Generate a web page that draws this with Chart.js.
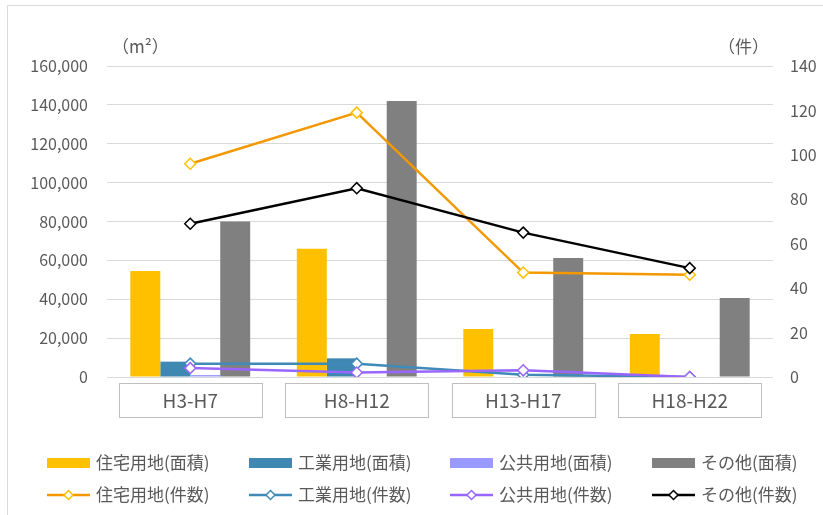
<!DOCTYPE html>
<html>
<head>
<meta charset="utf-8">
<script src="https://cdn.jsdelivr.net/npm/chart.js@4"></script>
<style>
  html, body { margin: 0; padding: 0; background: #fff; }
  #wrap { width: 823px; height: 515px; }
</style>
</head>
<body>
<div id="wrap"><canvas id="landChart" width="823" height="515"></canvas></div>
<script>
const periods = ['H3-H7', 'H8-H12', 'H13-H17', 'H18-H22'];

// 面積 (m2)
const residentialArea = [54500, 66000, 24700, 22100];
const industrialArea = [7900, 9600, 0, 0];
const publicArea = [1000, 0, 0, 0];
const otherArea = [80000, 142000, 61200, 40600];

// 件数
const residentialCount = [96, 119, 47, 46];
const industrialCount = [6, 6, 1, 0];
const publicCount = [4, 2, 3, 0];
const otherCount = [69, 85, 65, 49];

const areaTicks = [0, 20000, 40000, 60000, 80000, 100000, 120000, 140000, 160000];
const countTicks = [0, 20, 40, 60, 80, 100, 120, 140];

const FONT = '"Noto Sans CJK JP", "Noto Sans", sans-serif';
const TXT = '#595959';

function bar(label, data, color) {
    return { type: 'bar', label: label, data: data, backgroundColor: color, yAxisID: 'yArea', order: 3 };
}
function line(label, data, color, marker, order) {
    return {
        type: 'line', label: label, data: data, yAxisID: 'yCount', order: order,
        borderColor: color, borderWidth: 2.5, tension: 0,
        pointStyle: 'rectRot', pointRadius: 5.5, pointBorderWidth: 1.5,
        pointBackgroundColor: '#fff', pointBorderColor: marker || color
    };
}

// outer frame + axis units + category boxes + legend
const decor = {
    id: 'decor',
    beforeDraw(chart) {
        const c = chart.ctx;
        c.save();
        c.strokeStyle = '#D9D9D9';
        c.lineWidth = 1;
        c.beginPath();
        c.moveTo(7.5, 515); c.lineTo(7.5, 5.5); c.lineTo(823, 5.5);
        c.stroke();
        c.restore();
    },
    afterDraw(chart) {
        const c = chart.ctx;
        const x = chart.scales.x;
        c.save();
        c.font = '17px ' + FONT;
        c.fillStyle = TXT;
        c.textBaseline = 'middle';
        c.textAlign = 'left';
        c.fillText('（m²）', 112, 47);
        c.fillText('（件）', 718, 47);

        const w = x.width / periods.length * 0.86;
        c.strokeStyle = '#BFBFBF';
        c.lineWidth = 1;
        c.font = '19px ' + FONT;
        c.textAlign = 'center';
        periods.forEach((p, i) => {
            const cx = x.getPixelForValue(i);
            c.strokeRect(Math.round(cx - w / 2) + 0.5, 383.5, Math.round(w), 34);
            c.fillText(p, cx, 401);
        });

        const cols = [47, 249, 450, 652];
        const rows = [463, 495];
        c.font = '17px ' + FONT;
        c.textAlign = 'left';
        chart.data.datasets.forEach((ds, i) => {
            const lx = cols[i % 4];
            const ly = rows[Math.floor(i / 4)];
            if (ds.type === 'bar') {
                c.fillStyle = ds.backgroundColor;
                c.fillRect(lx, ly - 5, 43, 10);
            } else {
                c.strokeStyle = ds.borderColor;
                c.lineWidth = 2.5;
                c.beginPath();
                c.moveTo(lx, ly); c.lineTo(lx + 43, ly);
                c.stroke();
                const mx = lx + 21.5, r = 4.5;
                c.beginPath();
                c.moveTo(mx, ly - r); c.lineTo(mx + r, ly); c.lineTo(mx, ly + r); c.lineTo(mx - r, ly);
                c.closePath();
                c.fillStyle = '#fff';
                c.fill();
                c.lineWidth = 1.5;
                c.strokeStyle = ds.pointBorderColor;
                c.stroke();
            }
            c.fillStyle = TXT;
            c.fillText(ds.label, lx + 49, ly);
        });
        c.restore();
    }
};

new Chart(document.getElementById('landChart'), {
    data: {
        labels: periods,
        datasets: [
            bar('住宅用地(面積)', residentialArea, '#FFC000'),
            bar('工業用地(面積)', industrialArea, '#3F88B2'),
            bar('公共用地(面積)', publicArea, '#9999FF'),
            bar('その他(面積)', otherArea, '#808080'),
            line('住宅用地(件数)', residentialCount, '#F39800', '#FFC000', 1),
            line('工業用地(件数)', industrialCount, '#3F8AB8', null, 2),
            line('公共用地(件数)', publicCount, '#9966FF', null, 1),
            line('その他(件数)', otherCount, '#000000', null, 0)
        ]
    },
    plugins: [decor],
    options: {
        responsive: false,
        animation: false,
        layout: { padding: { top: 66, left: 0, right: 0, bottom: 0 } },
        plugins: { legend: { display: false }, tooltip: { enabled: false } },
        datasets: { bar: { categoryPercentage: 0.72, barPercentage: 1 } },
        scales: {
            x: {
                grid: { display: false },
                border: { display: false },
                ticks: { display: false },
                afterFit(s) { s.height = 138; }
            },
            yArea: {
                position: 'left',
                min: 0, max: 160000,
                afterBuildTicks(s) { s.ticks = areaTicks.map(v => ({ value: v })); },
                grid: { color: '#D9D9D9', lineWidth: 1, drawTicks: false },
                border: { display: false },
                ticks: {
                    padding: 19, color: TXT, font: { family: FONT, size: 16 },
                    callback: v => v.toLocaleString('en-US')
                },
                afterFit(s) { s.width = 107; }
            },
            yCount: {
                position: 'right',
                min: 0, max: 140,
                afterBuildTicks(s) { s.ticks = countTicks.map(v => ({ value: v })); },
                grid: { display: false, drawTicks: false },
                border: { display: false },
                ticks: { padding: 17, color: TXT, font: { family: FONT, size: 16 } },
                afterFit(s) { s.width = 50; }
            }
        }
    }
});
</script>
</body>
</html>
